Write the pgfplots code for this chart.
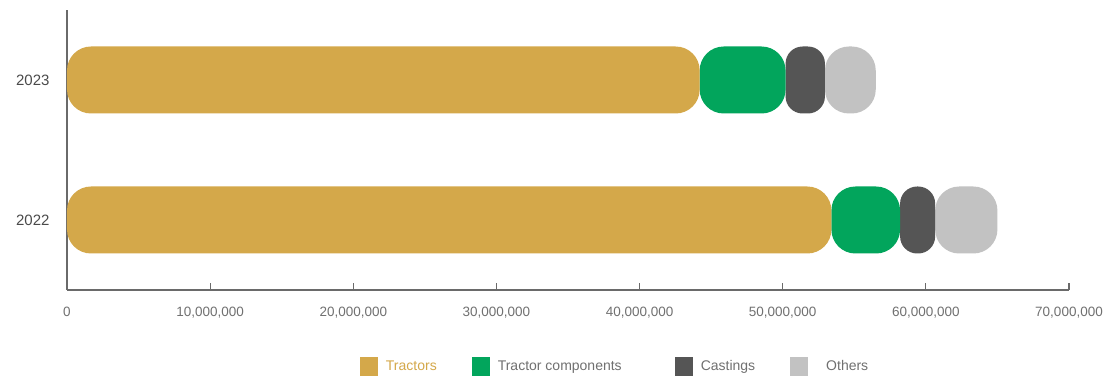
\documentclass[border=0pt]{standalone}
\usepackage{fontspec}
\setmainfont{Liberation Sans}
\usepackage{pgfplots}
\pgfplotsset{compat=1.18}
\definecolor{cT}{HTML}{D4A84A}
\definecolor{cC}{HTML}{02A55C}
\definecolor{cK}{HTML}{555555}
\definecolor{cO}{HTML}{C2C2C2}
\definecolor{cTxt}{HTML}{707070}
\definecolor{cYr}{HTML}{4A4A4A}
\definecolor{cAx}{HTML}{6A6A6A}
\begin{document}
\begin{tikzpicture}
\path[use as bounding box] (0,0) rectangle (1105pt,377pt);
\begin{axis}[
  at={(67pt,87pt)}, anchor=south west,
  scale only axis, width=1002pt, height=280pt,
  xbar stacked, bar width=67pt,
  xmin=0, xmax=70000000, ymin=-0.5, ymax=1.5,
  ytick={0,1}, yticklabels={2022,2023},
  xtick={0,10000000,...,70000000},
  scaled x ticks=false,
  xticklabel={\pgfmathprintnumber[fixed,1000 sep={,},assume math mode=true]{\tick}},
  axis x line*=bottom, axis y line*=left,
  axis line style={cAx, line width=1.1pt},
  x tick style={cAx, line width=1.1pt},
  xtick align=inside,
  major tick length=7pt,
  y tick style={draw=none},
  xticklabel style={font=\fontsize{13.5}{15}\selectfont, text=cTxt, yshift=-14pt},
  yticklabel style={font=\fontsize{15}{17}\selectfont, text=cYr, xshift=-14pt},
  legend style={at={(0.547,-0.272)}, anchor=center, draw=none, legend columns=4,
    font=\fontsize{14}{16}\selectfont, text=cTxt,
    /tikz/every odd column/.append style={column sep=6pt},
    /tikz/every even column/.append style={column sep=33pt}},
  legend image code/.code={\fill[#1, rounded corners=0pt] (0pt,-9.5pt) rectangle (18pt,9.5pt);},
  every axis plot/.append style={draw=none},
]
\addplot[fill=cT, rounded corners=24pt] coordinates {(53400000,0) (44200000,1)};
\addplot[fill=cC, rounded corners=24pt] coordinates {(4800000,0) (6000000,1)};
\addplot[fill=cK, rounded corners=17pt] coordinates {(2450000,0) (2750000,1)};
\addplot[fill=cO, rounded corners=24pt] coordinates {(4350000,0) (3550000,1)};
\addlegendentry{\textcolor{cT}{Tractors}}
\addlegendentry{Tractor components\rule{18pt}{0pt}}
\addlegendentry{Castings}
\addlegendentry{\rule{10pt}{0pt}Others}
\end{axis}
\end{tikzpicture}
\end{document}
